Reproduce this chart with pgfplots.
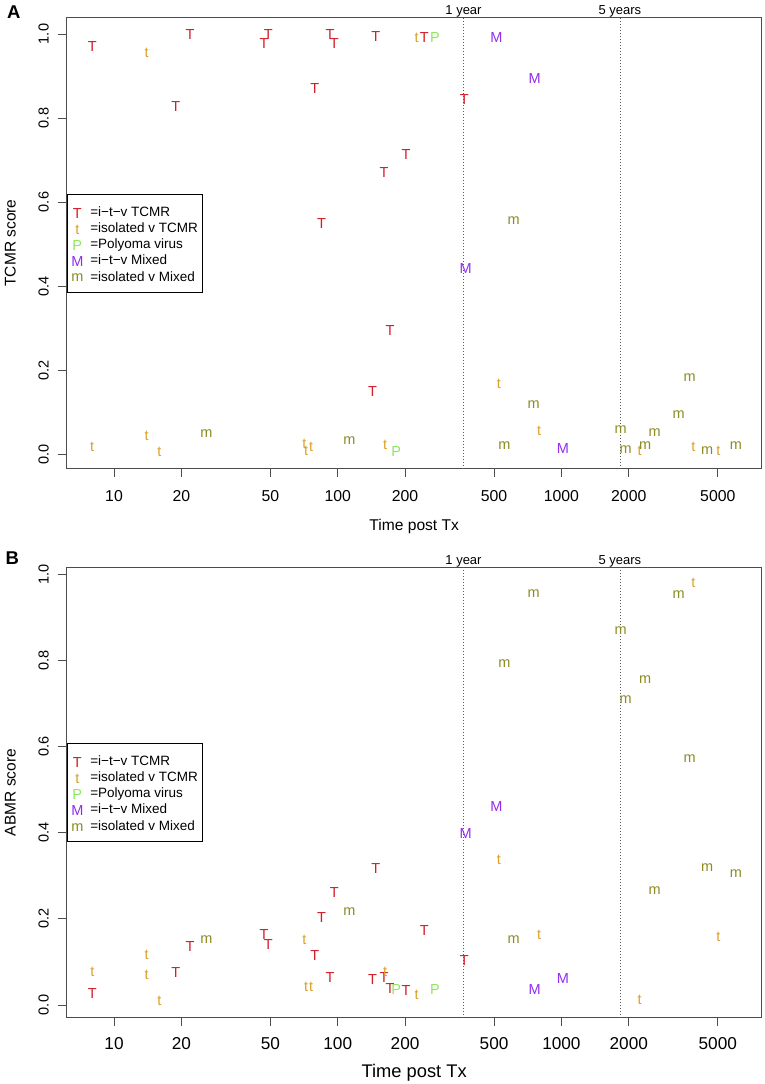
\documentclass[border=0pt]{standalone}
\usepackage{fontspec}
\setmainfont{Liberation Sans}
\usepackage{pgfplots}
\pgfplotsset{compat=1.18}
\definecolor{cT}{RGB}{210,30,40}
\definecolor{ct}{RGB}{218,160,40}
\definecolor{cP}{RGB}{140,232,90}
\definecolor{cM}{RGB}{145,45,235}
\definecolor{cm}{RGB}{140,140,35}
\newcommand\fs[1]{\fontsize{#1}{#1}\selectfont}
\begin{document}
\begin{tikzpicture}
\useasboundingbox (0,0) rectangle (765pt,-1084pt);
% ---------------- Panel A ----------------
\begin{axis}[at={(66.7pt,-468.3pt)}, anchor=south west,
  scale only axis, width=695pt, height=450.6pt,
  xmode=log, xmin=6.145, xmax=7859, ymin=-0.034, ymax=1.0388,
  xtick={10,20,50,100,200,500,1000,2000,5000},
  xticklabels={10,20,50,100,200,500,1000,2000,5000},
  ytick={0,0.2,0.4,0.6,0.8,1.0},
  yticklabels={0.0,0.2,0.4,0.6,0.8,1.0},
  tick align=outside, major tick length=8.5pt,
  xtick pos=bottom, ytick pos=left,
  axis line style={black!70, line width=1.1pt},
  every tick/.style={black!70, line width=0.9pt},
  xticklabel style={font=\fs{15.8}, anchor=north, inner sep=0pt, yshift=-13pt},
  yticklabel style={font=\fs{14.5}, xshift=-9.2pt, rotate=90, anchor=south, inner sep=0pt},
  xlabel={Time post Tx}, ylabel={TCMR score},
  xlabel style={font=\fs{15.6}, at={(axis description cs:0.5,-0.1295)}, anchor=center, inner sep=0pt},
  ylabel style={font=\fs{15.5}, at={(axis description cs:-0.081,0.5)}, anchor=center, inner sep=0pt},
  clip=false,
  legend style={at={(0,0.608)}, anchor=north west, draw=black, line width=0.7pt, fill=white,
    font=\fs{13.5}, inner xsep=4.2pt, inner ysep=9.6pt, row sep=2.2pt, column sep=7pt,
    nodes={inner sep=0pt, text height=12pt, text depth=2pt}},
  legend cell align=left,
  legend image code/.code={\path[draw=none, fill=none] (-6pt,-7pt) rectangle (6pt,7pt); \draw[#1] plot coordinates {(0pt,-2pt)};}]
\addplot[forget plot, black!65, line width=0.8pt, dash pattern=on 0.8pt off 2.2pt] coordinates {(365,-0.034) (365,1.0388)};
\addplot[forget plot, black!65, line width=0.8pt, dash pattern=on 0.8pt off 2.2pt] coordinates {(1826,-0.034) (1826,1.0388)};
\addplot[only marks, mark=text, text mark={\color{cT}\fs{14.5}T}, color=cT] coordinates {(8.0,0.971) (21.9,0.998) (18.9,0.827) (49.0,0.999) (46.8,0.977) (92.4,0.999) (96.6,0.977) (78.9,0.871) (148,0.994) (161,0.670) (243.8,0.991) (368,0.845) (202,0.714) (84.7,0.549) (171.5,0.295) (143.2,0.150)};
\addlegendentry{=i−t−v TCMR}
\addplot[only marks, mark=text, text mark={\color{ct}\fs{14.5}t}, color=ct] coordinates {(14.0,0.956) (225.5,0.991) (7.98,0.017) (14.0,0.044) (15.95,0.005) (71.0,0.023) (72.2,0.008) (76.0,0.017) (163,0.021) (526,0.166) (796,0.055) (2239,0.008) (3892,0.017) (5027,0.008)};
\addlegendentry{=isolated v TCMR}
\addplot[only marks, mark=text, text mark={\color{cP}\fs{14.5}P}, color=cP] coordinates {(272,0.991) (182.4,0.005)};
\addlegendentry{=Polyoma virus}
\addplot[only marks, mark=text, text mark={\color{cM}\fs{14.5}M}, color=cM] coordinates {(512,0.991) (760,0.895) (373,0.442) (1016,0.014)};
\addlegendentry{=i−t−v Mixed}
\addplot[only marks, mark=text, text mark={\color{cm}\fs{14.5}m}, color=cm] coordinates {(25.9,0.048) (112.7,0.033) (611,0.555) (752,0.117) (556,0.020) (1841,0.059) (1938,0.011) (2365,0.021) (2613,0.051) (3345,0.093) (3747,0.183) (4480,0.008) (6025,0.021)};
\addlegendentry{=isolated v Mixed}
\node[font=\fs{13}, anchor=base, inner sep=0pt, yshift=3.1pt] at (axis cs:365,1.0388) {1 year};
\node[font=\fs{13}, anchor=base, inner sep=0pt, yshift=3.1pt] at (axis cs:1826,1.0388) {5 years};
\end{axis}
\node[font=\bfseries\fs{18.5}, inner sep=0pt] at (13.7pt,-12.3pt) {A};
% ---------------- Panel B ----------------
\begin{axis}[at={(66.7pt,-1017.7pt)}, anchor=south west,
  scale only axis, width=695pt, height=450.4pt,
  xmode=log, xmin=6.145, xmax=7859, ymin=-0.0295, ymax=1.016,
  xtick={10,20,50,100,200,500,1000,2000,5000},
  xticklabels={10,20,50,100,200,500,1000,2000,5000},
  ytick={0,0.2,0.4,0.6,0.8,1.0},
  yticklabels={0.0,0.2,0.4,0.6,0.8,1.0},
  tick align=outside, major tick length=8.5pt,
  xtick pos=bottom, ytick pos=left,
  axis line style={black!70, line width=1.1pt},
  every tick/.style={black!70, line width=0.9pt},
  xticklabel style={font=\fs{17.2}, anchor=north, inner sep=0pt, yshift=-11.5pt},
  yticklabel style={font=\fs{14.5}, xshift=-9.2pt, rotate=90, anchor=south, inner sep=0pt},
  xlabel={Time post Tx}, ylabel={ABMR score},
  xlabel style={font=\fs{18.3}, at={(axis description cs:0.5,-0.1215)}, anchor=center, inner sep=0pt},
  ylabel style={font=\fs{15.5}, at={(axis description cs:-0.081,0.5)}, anchor=center, inner sep=0pt},
  clip=false,
  legend style={at={(0,0.609)}, anchor=north west, draw=black, line width=0.7pt, fill=white,
    font=\fs{13.5}, inner xsep=4.2pt, inner ysep=9.6pt, row sep=2.2pt, column sep=7pt,
    nodes={inner sep=0pt, text height=12pt, text depth=2pt}},
  legend cell align=left,
  legend image code/.code={\path[draw=none, fill=none] (-6pt,-7pt) rectangle (6pt,7pt); \draw[#1] plot coordinates {(0pt,-2pt)};}]
\addplot[forget plot, black!65, line width=0.8pt, dash pattern=on 0.8pt off 2.2pt] coordinates {(365,-0.0295) (365,1.016)};
\addplot[forget plot, black!65, line width=0.8pt, dash pattern=on 0.8pt off 2.2pt] coordinates {(1826,-0.0295) (1826,1.016)};
\addplot[only marks, mark=text, text mark={\color{cT}\fs{14.5}T}, color=cT] coordinates {(8.0,0.026) (21.9,0.135) (18.9,0.076) (49.0,0.141) (46.8,0.163) (92.4,0.064) (96.6,0.262) (78.9,0.115) (148,0.317) (161,0.063) (243.8,0.172) (368,0.103) (202,0.033) (84.7,0.203) (171.5,0.039) (143.2,0.059)};
\addlegendentry{=i−t−v TCMR}
\addplot[only marks, mark=text, text mark={\color{ct}\fs{14.5}t}, color=ct] coordinates {(8.0,0.077) (14.0,0.117) (14.0,0.069) (15.95,0.010) (71.0,0.151) (72.2,0.042) (76.0,0.043) (163,0.077) (225.5,0.024) (526,0.337) (796,0.163) (2239,0.011) (3892,0.979) (5027,0.159)};
\addlegendentry{=isolated v TCMR}
\addplot[only marks, mark=text, text mark={\color{cP}\fs{14.5}P}, color=cP] coordinates {(182.4,0.037) (272,0.036)};
\addlegendentry{=Polyoma virus}
\addplot[only marks, mark=text, text mark={\color{cM}\fs{14.5}M}, color=cM] coordinates {(512,0.461) (373,0.399) (760,0.037) (1016,0.061)};
\addlegendentry{=i−t−v Mixed}
\addplot[only marks, mark=text, text mark={\color{cm}\fs{14.5}m}, color=cm] coordinates {(25.9,0.151) (112.7,0.217) (611,0.151) (752,0.956) (556,0.793) (1841,0.868) (1938,0.708) (2365,0.755) (2613,0.266) (3345,0.953) (3747,0.573) (4480,0.318) (6025,0.305)};
\addlegendentry{=isolated v Mixed}
\node[font=\fs{13}, anchor=base, inner sep=0pt, yshift=3.3pt] at (axis cs:365,1.016) {1 year};
\node[font=\fs{13}, anchor=base, inner sep=0pt, yshift=3.3pt] at (axis cs:1826,1.016) {5 years};
\end{axis}
\node[font=\bfseries\fs{18.5}, inner sep=0pt] at (12.2pt,-557.7pt) {B};
\end{tikzpicture}
\end{document}
